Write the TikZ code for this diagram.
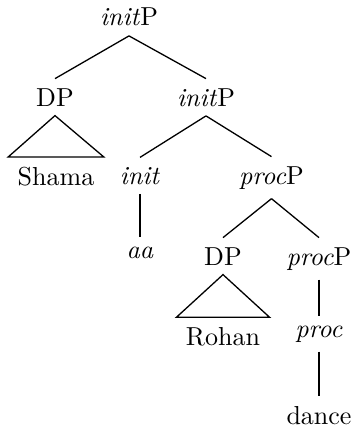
\documentclass[tikz,border=0pt]{standalone}
\begin{document}
\begin{tikzpicture}[x=0.3846pt,y=-0.3846pt,
  lab/.style={anchor=base,inner sep=3.5pt},
  edge/.style={draw=black,line width=0.5pt}]
\useasboundingbox (0,0) rectangle (355,427);
% tree labels, placed on their baselines
\node[lab] (root) at (129,26) {\textit{init}P};
\node[lab] (dpa) at (55,106) {DP};
\node[lab] (initp) at (206,106) {\textit{init}P};
\node[lab] (shama) at (56,185) {Shama};
\node[lab] (init) at (140,184) {\textit{init}};
\node[lab] (procpa) at (271.5,184) {\textit{proc}P};
\node[lab] (aa) at (140,258) {\textit{aa}};
\node[lab] (dpb) at (223,265) {DP};
\node[lab] (procpb) at (319,265) {\textit{proc}P};
\node[lab] (rohan) at (223,345) {Rohan};
\node[lab] (proc) at (319,337) {\textit{proc}};
\node[lab] (dance) at (319,424) {dance};
% branches
\draw[edge] (root.south) -- (dpa.north);
\draw[edge] (root.south) -- (initp.north);
\draw[edge] (initp.south) -- (init.north);
\draw[edge] (initp.south) -- (procpa.north);
\draw[edge] (init.south) -- (init.south |- aa.north);
\draw[edge] (procpa.south) -- (dpb.north);
\draw[edge] (procpa.south) -- (procpb.north);
\draw[edge] (procpb.south) -- (procpb.south |- proc.north);
\draw[edge] (proc.south) -- (proc.south |- dance.north);
% roofs over unanalysed phrases
\draw[edge] (dpa.south) -- (shama.north west) -- (shama.north east) -- cycle;
\draw[edge] (dpb.south) -- (rohan.north west) -- (rohan.north east) -- cycle;
\end{tikzpicture}
\end{document}
